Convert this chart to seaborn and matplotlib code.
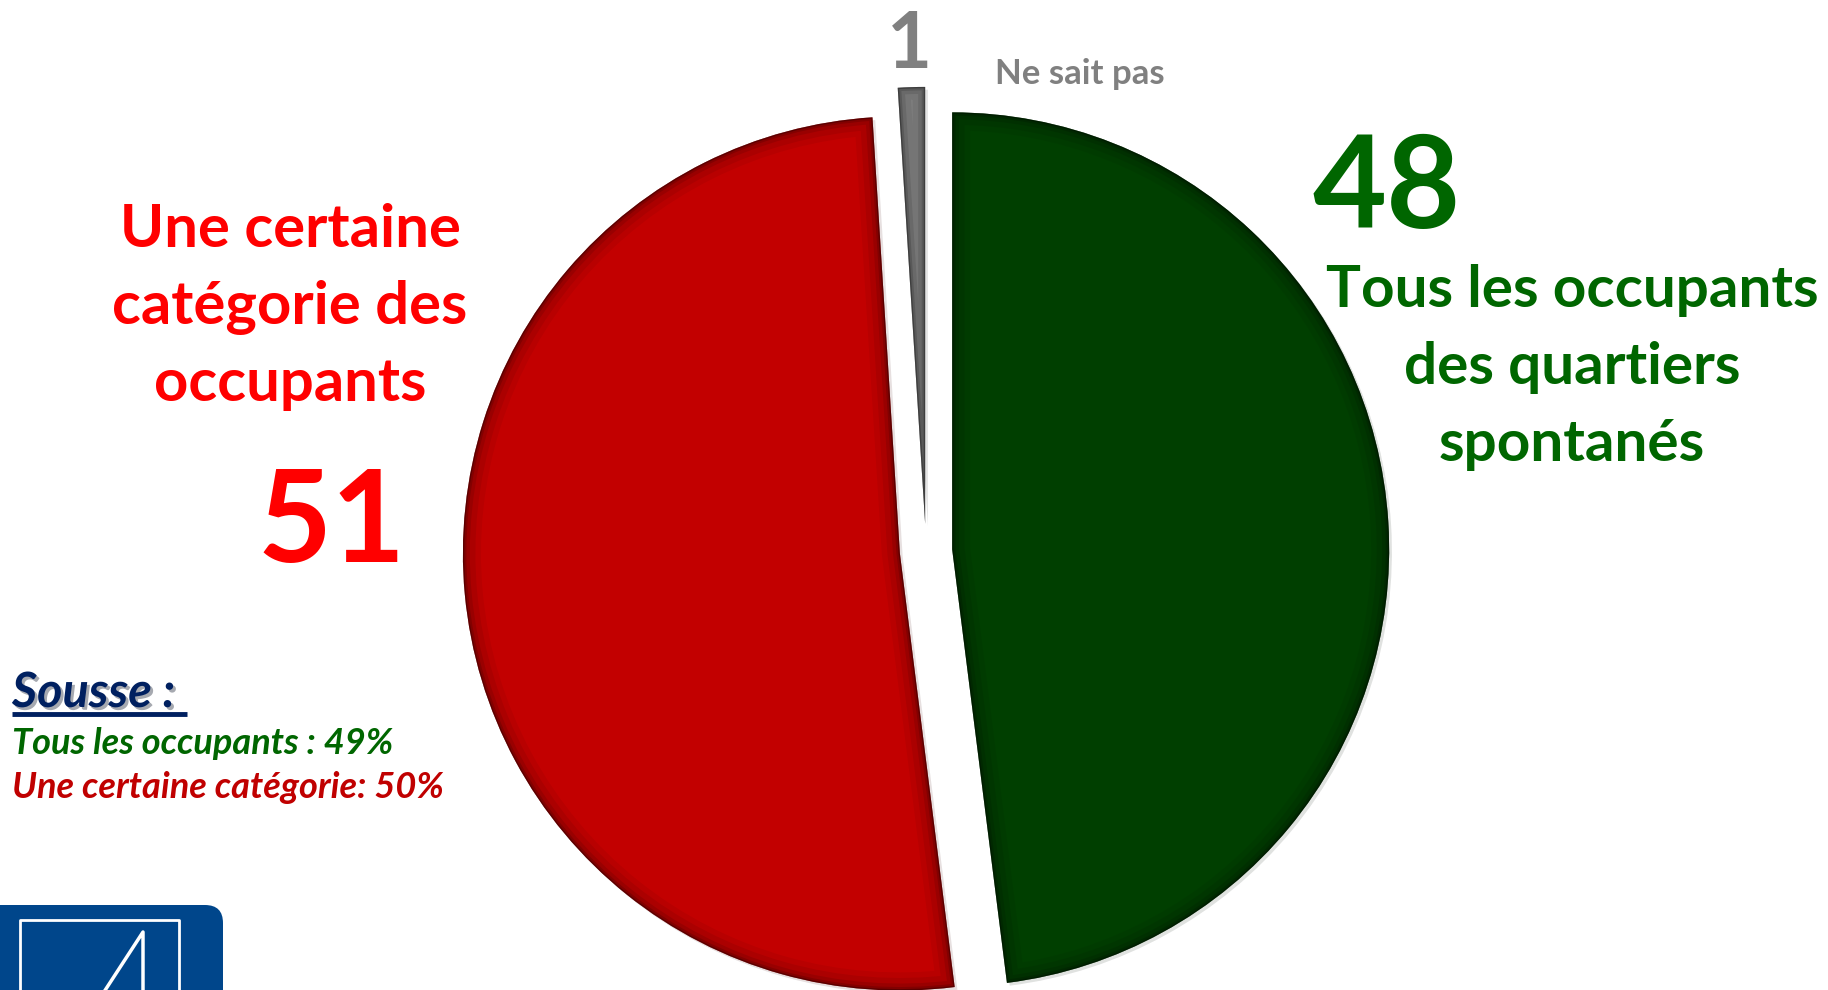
import numpy as np
import matplotlib
matplotlib.use('Agg')
import matplotlib.pyplot as plt
import matplotlib.patheffects as pe
from matplotlib.patches import Wedge, FancyBboxPatch
import seaborn as sns

# survey answers (%)
LABELS = ['Tous les occupants des quartiers spontanés',
          'Une certaine catégorie des occupants',
          'Ne sait pas']
VALUES = [48, 51, 1]
COLORS = ['#003f00', '#c20000', '#858585']
EXPLODE = [0.06, 0.06, 0.062]   # fraction of the radius

SOUSSE_TITLE = 'Sousse :'
SOUSSE_LINES = ['Tous les occupants : 49%', 'Une certaine catégorie: 50%']

W, H = 1828, 990
RADIUS = 437
FONT = ['Lato', 'DejaVu Sans']


def main():
    sns.set_theme(style='white')
    plt.rcParams['font.family'] = FONT

    fig = plt.figure(figsize=(W / 100, H / 100), dpi=100)
    ax = fig.add_axes([0, 0, 1, 1])

    wedges, _ = ax.pie(VALUES, colors=COLORS,
                       explode=[e * RADIUS for e in EXPLODE], startangle=90,
                       counterclock=False, radius=RADIUS, center=(926, 439),
                       wedgeprops=dict(linewidth=0))

    # bevel-like darkening near the slice borders
    for w in wedges:
        w.set_path_effects([pe.SimplePatchShadow(offset=(2, -2), alpha=0.12),
                            pe.Normal()])
        for lw, a in [(26, 0.05), (18, 0.07), (10, 0.1), (5, 0.15), (2, 0.3)]:
            rim = Wedge(w.center, w.r, w.theta1, w.theta2, facecolor='none',
                        edgecolor='black', linewidth=lw, alpha=a)
            ax.add_patch(rim)
            rim.set_clip_path(w)

    ax.set_xlim(0, W)
    ax.set_ylim(0, H)
    ax.set_aspect('equal')
    ax.axis('off')

    # labels
    red, green, grey = '#ff0000', '#006600', '#808080'
    for i, line in enumerate(['Une certaine', 'catégorie des', 'occupants']):
        ax.text(290, H - 247 - i * 77, line, color=red, fontsize=43,
                fontweight='bold', ha='center', va='baseline')
    ax.text(332, H - 562, str(VALUES[1]), color=red, fontsize=92,
            fontweight='bold', ha='center', va='baseline')

    for i, line in enumerate(['Tous les occupants', 'des quartiers', 'spontanés']):
        ax.text(1572, H - 307 - i * 77, line, color=green, fontsize=42,
                fontweight='bold', ha='center', va='baseline')
    ax.text(1387, H - 228, str(VALUES[0]), color=green, fontsize=92,
            fontweight='bold', ha='center', va='baseline')

    ax.text(909, H - 68, str(VALUES[2]), color=grey, fontsize=56,
            fontweight='bold', ha='center', va='baseline')
    ax.text(995, H - 84, 'Ne sait pas', color=grey, fontsize=25,
            fontweight='bold', ha='left', va='baseline')

    # Sousse box
    shadow = [pe.SimplePatchShadow(offset=(2, -2), alpha=0.35), pe.Normal()]
    ax.text(12, H - 707, SOUSSE_TITLE, color='#002060', fontsize=35,
            fontweight='bold', fontstyle='italic', ha='left', va='baseline',
            path_effects=shadow)
    ax.plot([12, 187], [H - 714, H - 714], color='#002060', lw=3.5,
            solid_capstyle='butt', path_effects=shadow)
    ax.text(12, H - 754, SOUSSE_LINES[0], color='#006600', fontsize=26,
            fontweight='bold', fontstyle='italic', ha='left', va='baseline')
    ax.text(12, H - 798, SOUSSE_LINES[1], color='#c00000', fontsize=26,
            fontweight='bold', fontstyle='italic', ha='left', va='baseline')

    # logo corner
    ax.add_patch(FancyBboxPatch((-60, -60), 283, 145,
                                boxstyle='round,pad=0,rounding_size=18',
                                facecolor='#00468b', edgecolor='none'))
    ax.plot([20, 20, 179, 179], [-5, 70, 70, -5], color='white', lw=2)
    ax.plot([102, 143, 143], [-5, 58, -5], color='white', lw=2.5)

    fig.savefig('out.png', dpi=100)


if __name__ == '__main__':
    main()
